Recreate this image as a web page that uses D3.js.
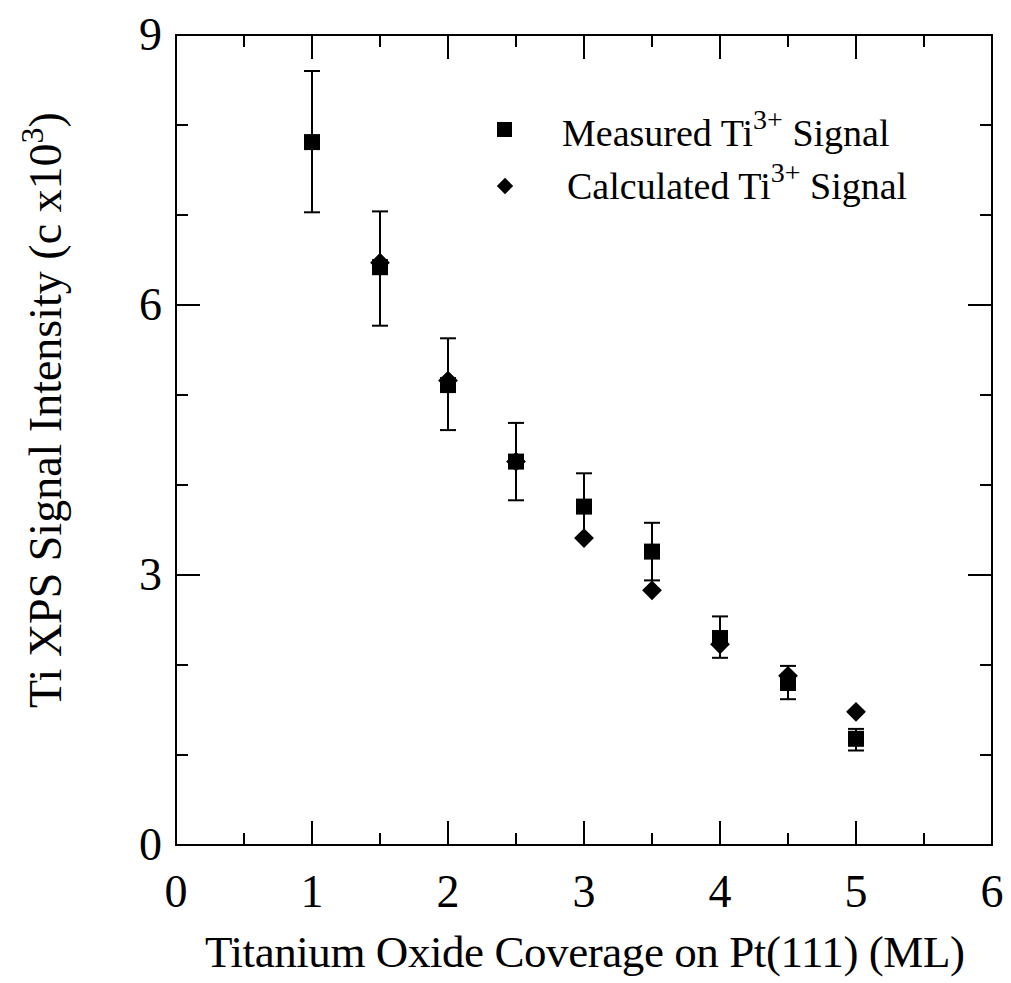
<!DOCTYPE html>
<html>
<head>
<meta charset="utf-8">
<script src="https://cdn.jsdelivr.net/npm/d3@7"></script>
<style>
  body { margin: 0; background: #fff; }
  text { font-family: "Liberation Serif", "Times New Roman", serif; fill: #000; }
</style>
</head>
<body>
<svg id="chart" width="1011" height="983"></svg>
<script>
// coverage (ML) for the measured points
const coverage = [1, 1.5, 2, 2.5, 3, 3.5, 4, 4.5, 5]
// measured Ti3+ signal and its error bar ends (c x 10^3)
const measured = [7.81, 6.42, 5.11, 4.26, 3.76, 3.26, 2.30, 1.80, 1.18]
const errHigh = [8.60, 7.04, 5.63, 4.69, 4.13, 3.58, 2.54, 1.99, 1.29]
const errLow = [7.03, 5.77, 4.61, 3.83, 3.40, 2.94, 2.08, 1.62, 1.05]
// calculated Ti3+ signal
const calcCoverage = [1.5, 2, 2.5, 3, 3.5, 4, 4.5, 5]
const calculated = [6.47, 5.16, 4.26, 3.41, 2.83, 2.23, 1.88, 1.48]

const xTicks = [0, 1, 2, 3, 4, 5, 6]
const yTicks = [0, 3, 6, 9]

const svg = d3.select("#chart")

const pLeft = 176, pRight = 992, pTop = 35, pBottom = 845

const x = d3.scaleLinear().domain([0, 6]).range([pLeft, pRight])
const y = d3.scaleLinear().domain([0, 9]).range([pBottom, pTop])

// frame
svg.append("rect")
   .attr("x", pLeft).attr("y", pTop)
   .attr("width", pRight - pLeft).attr("height", pBottom - pTop)
   .attr("fill", "none").attr("stroke", "#000").attr("stroke-width", 2)

// ticks, pointing inward on all four sides
const xMinor = d3.range(0.5, 6, 0.5)
const yMinor = d3.range(1, 9, 1)
const tickG = svg.append("g").attr("stroke", "#000").attr("stroke-width", 2)

xMinor.forEach(v => {
  const len = Number.isInteger(v) ? 24 : 12
  tickG.append("line").attr("x1", x(v)).attr("x2", x(v)).attr("y1", pBottom).attr("y2", pBottom - len)
  tickG.append("line").attr("x1", x(v)).attr("x2", x(v)).attr("y1", pTop).attr("y2", pTop + len)
})
yMinor.forEach(v => {
  const len = v % 3 === 0 ? 24 : 12
  tickG.append("line").attr("y1", y(v)).attr("y2", y(v)).attr("x1", pLeft).attr("x2", pLeft + len)
  tickG.append("line").attr("y1", y(v)).attr("y2", y(v)).attr("x1", pRight).attr("x2", pRight - len)
})

// tick labels
svg.append("g").selectAll("text")
   .data(xTicks).enter().append("text")
   .attr("x", d => x(d)).attr("y", 907)
   .attr("text-anchor", "middle")
   .attr("font-size", 46)
   .text(d => d)

svg.append("g").selectAll("text")
   .data(yTicks).enter().append("text")
   .attr("x", 162).attr("y", d => y(d) + 15)
   .attr("text-anchor", "end")
   .attr("font-size", 46)
   .text(d => d)

// axis titles
svg.append("text")
   .attr("x", 585).attr("y", 967)
   .attr("text-anchor", "middle")
   .attr("font-size", 45)
   .attr("textLength", 760)
   .text("Titanium Oxide Coverage on Pt(111) (ML)")

const yTitle = svg.append("text")
   .attr("transform", "translate(61," + 410 + ") rotate(-90)")
   .attr("text-anchor", "middle")
   .attr("font-size", 46)
yTitle.append("tspan").text("Ti XPS Signal Intensity (c x10")
yTitle.append("tspan").attr("font-size", 32).attr("dy", -18).text("3")
yTitle.append("tspan").attr("dy", 18).text(")")

// error bars
const capW = 8
const eb = svg.append("g").attr("stroke", "#000").attr("stroke-width", 2)
coverage.forEach((c, i) => {
  eb.append("line").attr("x1", x(c)).attr("x2", x(c)).attr("y1", y(errLow[i])).attr("y2", y(errHigh[i]))
  eb.append("line").attr("x1", x(c) - capW).attr("x2", x(c) + capW).attr("y1", y(errLow[i])).attr("y2", y(errLow[i]))
  eb.append("line").attr("x1", x(c) - capW).attr("x2", x(c) + capW).attr("y1", y(errHigh[i])).attr("y2", y(errHigh[i]))
})

// calculated diamonds
const diamond = d3.symbol().type(d3.symbolDiamond2).size(250)
svg.append("g").selectAll("path")
   .data(calcCoverage).enter().append("path")
   .attr("d", diamond)
   .attr("transform", (d, i) => "translate(" + x(d) + "," + y(calculated[i]) + ")")
   .attr("fill", "#000")

// measured squares
const sq = 16
svg.append("g").selectAll("rect")
   .data(coverage).enter().append("rect")
   .attr("x", d => x(d) - sq / 2)
   .attr("y", (d, i) => y(measured[i]) - sq / 2)
   .attr("width", sq).attr("height", sq)
   .attr("fill", "#000")

// legend
const legend = svg.append("g")
legend.append("rect").attr("x", 497).attr("y", 122).attr("width", 15).attr("height", 15).attr("fill", "#000")
legend.append("path").attr("d", d3.symbol().type(d3.symbolDiamond2).size(170))
      .attr("transform", "translate(505,186)").attr("fill", "#000")

const entries = [["Measured Ti", 562, 146], ["Calculated Ti", 567, 199]]
entries.forEach(e => {
  const t = legend.append("text").attr("x", e[1]).attr("y", e[2]).attr("font-size", 38)
  t.append("tspan").text(e[0])
  t.append("tspan").attr("font-size", 28).attr("dy", -17).text("3+")
  t.append("tspan").attr("dy", 17).text(" Signal")
})
</script>
</body>
</html>
